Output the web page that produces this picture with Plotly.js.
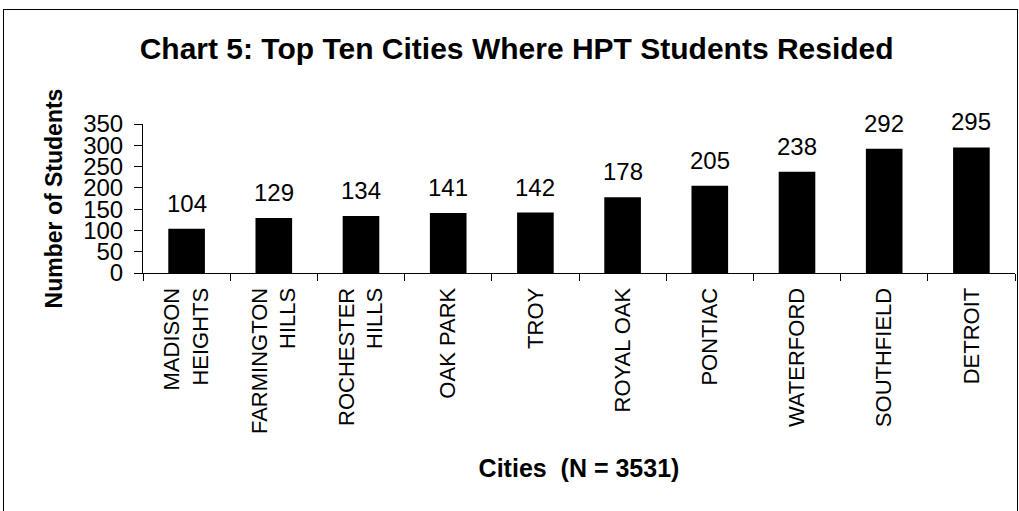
<!DOCTYPE html>
<html>
<head>
<meta charset="utf-8">
<script src="https://cdn.plot.ly/plotly-3.0.1.min.js"></script>
<style>
  html, body { margin: 0; padding: 0; background: #fff; }
  #frame { position: absolute; left: 3px; top: 9px; width: 1013px; height: 520px;
           border-left: 1px solid #000; border-top: 1px solid #000; border-right: 1px solid #000; }
  #chart { position: absolute; left: 0; top: 0; width: 1019px; height: 511px; }
</style>
</head>
<body>
<div id="frame"></div>
<div id="chart"></div>
<script>
const cities = ["MADISON<br>HEIGHTS", "FARMINGTON<br>HILLS", "ROCHESTER<br>HILLS", "OAK PARK", "TROY",
                "ROYAL OAK", "PONTIAC", "WATERFORD", "SOUTHFIELD", "DETROIT"];
const students = [104, 129, 134, 141, 142, 178, 205, 238, 292, 295];
const yTicks = [0, 50, 100, 150, 200, 250, 300, 350];

const FONT = "Liberation Sans, Arial, sans-serif";

const trace = {
  type: "bar",
  x: cities,
  y: students,
  marker: { color: "#000", line: { width: 0 } },
  hoverinfo: "x+y"
};

const annotations = cities.map((c, i) => ({
  x: c, y: students[i], xref: "x", yref: "y",
  text: String(students[i]), showarrow: false,
  yanchor: "bottom", yshift: 10,
  font: { family: FONT, size: 24, color: "#000" }
}));

const layout = {
  width: 1019, height: 511,
  margin: { l: 143, r: 4, t: 124, b: 238 },
  paper_bgcolor: "rgba(0,0,0,0)",
  plot_bgcolor: "rgba(0,0,0,0)",
  showlegend: false,
  bargap: 0.58,
  title: {
    text: "<b>Chart 5: Top Ten Cities Where HPT Students Resided</b>",
    font: { family: FONT, size: 30, color: "#000" },
    x: 0.507, xanchor: "center", xref: "container",
    y: 0.905, yanchor: "middle", yref: "container"
  },
  xaxis: {
    type: "category",
    tickangle: -90,
    tickson: "boundaries",
    ticks: "outside", ticklen: 7, tickcolor: "#000", tickwidth: 1,
    showline: true, linecolor: "#000", linewidth: 1,
    showgrid: false, zeroline: false,
    tickfont: { family: FONT, size: 22, color: "#000" },
    ticklabelstandoff: 5,
    automargin: false,
    title: { text: "<b>Cities  (N = 3531)</b>", font: { family: FONT, size: 25, color: "#000" }, standoff: 26 }
  },
  yaxis: {
    range: [0, 350],
    tickvals: yTicks,
    ticktext: yTicks.map(String),
    ticks: "outside", ticklen: 8, tickcolor: "#000", tickwidth: 1,
    showline: true, linecolor: "#000", linewidth: 1,
    showgrid: false, zeroline: false,
    tickfont: { family: FONT, size: 24, color: "#000" },
    ticklabelstandoff: 6,
    automargin: false,
    title: { text: "<b>Number of Students</b>", font: { family: FONT, size: 23, color: "#000" }, standoff: 14 }
  },
  annotations: annotations
};

Plotly.newPlot("chart", [trace], layout, { displayModeBar: false, responsive: false });
</script>
</body>
</html>
